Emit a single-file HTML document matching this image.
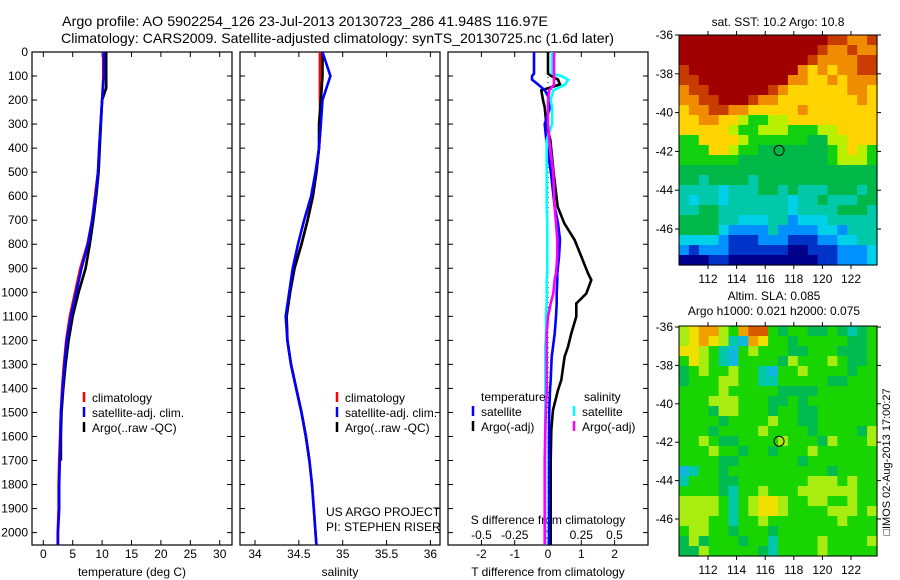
<!DOCTYPE html>
<html><head><meta charset="utf-8"><style>
body{margin:0;background:#fff}
svg{display:block;font-family:"Liberation Sans",sans-serif}
text{fill:#000;font-size:12px}
</style></head><body>
<svg id="fig" width="900" height="580" viewBox="0 0 900 580">
<text x="62" y="26" textLength="486" lengthAdjust="spacingAndGlyphs" style="font-size:14px">Argo profile: AO 5902254_126 23-Jul-2013 20130723_286 41.948S 116.97E</text>
<text x="61" y="43" textLength="553" lengthAdjust="spacingAndGlyphs" style="font-size:14px">Climatology: CARS2009. Satellite-adjusted climatology: synTS_20130725.nc (1.6d later)</text>
<g id="panels"></g>
<g id="maps"></g>
<text transform="translate(890,462) rotate(-90)" text-anchor="middle" style="font-size:11px">□IMOS 02-Aug-2013 17:00:27</text>
</svg>
<script>
// ---- data ----
const depthClim = [0,100,200,300,400,500,600,700,800,900,1000,1100,1200,1300,1400,1500,1600,1700,1800,1900,2000,2050];
const tempClim = [10.2,10.2,10.0,9.75,9.5,9.3,8.8,8.3,7.5,6.3,5.4,4.5,3.9,3.5,3.2,3.0,2.85,2.7,2.6,2.6,2.45,2.45];
const tempSat  = [10.3,10.3,10.0,9.75,9.5,9.3,8.9,8.3,7.6,6.5,5.6,4.7,4.0,3.6,3.3,3.0,2.9,2.8,2.7,2.7,2.5,2.5];
const depthArgo = [0,100,150,200,300,400,500,600,700,800,900,1000,1100,1200,1300,1400,1500,1600,1700];
const tempArgo = [10.7,10.7,10.7,10.0,9.8,9.6,9.4,9.0,8.5,7.9,7.2,6.0,5.0,4.3,3.8,3.4,3.1,3.0,3.0];
const salClim = [34.74,34.74,34.74,34.75,34.73,34.70,34.66,34.60,34.53,34.45,34.40,34.36,34.37,34.41,34.47,34.53,34.58,34.62,34.65,34.67,34.69,34.70];
const salSat  = [34.77,34.86,34.77,34.75,34.73,34.69,34.64,34.56,34.49,34.43,34.39,34.35,34.37,34.41,34.47,34.53,34.58,34.62,34.65,34.67,34.69,34.70];
const salArgo = [34.77,34.77,34.76,34.75,34.73,34.73,34.70,34.66,34.60,34.53,34.45,34.40,34.36,34.37,34.41,34.47,34.53,34.58,34.62];
const depthDiff = [0,90,100,115,135,160,200,230,300,366,505,644,713,782,851,921,949,1005,1046,1101,1171,1227,1268,1365,1407,1490,1573,1700,2050];
const dTSat  = [-0.42,-0.42,-0.48,-0.48,-0.3,-0.09,0.06,0.06,-0.1,-0.05,0.09,0.2,0.3,0.36,0.33,0.28,0.28,0.26,0.26,0.24,0.2,0.15,0.11,0.08,0.06,0.04,0.03,0.03,0.03];
const dTArgo = [0,0,0.1,0.3,0.36,-0.2,-0.15,-0.1,-0.05,0.07,0.17,0.29,0.49,0.8,1.0,1.2,1.3,1.15,0.85,0.85,0.7,0.6,0.5,0.4,0.3,0.15,0.1,0.08,0.08];
const dSSat  = [0.03,0.03,0.1,0.15,0.13,0.04,0.02,0.03,0.03,-0.01,-0.01,-0.01,-0.005,-0.005,-0.005,-0.005,-0.01,-0.01,-0.01,-0.015,-0.015,-0.02,-0.02,-0.02,-0.02,-0.02,-0.02,-0.02,-0.02];
const dSArgo = [0.045,0.045,0.045,0.045,0.045,0.01,0.0,0.0,0.0,0.01,0.04,0.05,0.06,0.07,0.07,0.06,0.05,0.04,0.02,0.0,-0.01,-0.01,-0.01,-0.01,-0.01,-0.015,-0.02,-0.025,-0.025];
const depthTicks = [0,100,200,300,400,500,600,700,800,900,1000,1100,1200,1300,1400,1500,1600,1700,1800,1900,2000];
const tempTicks = [0,5,10,15,20,25,30];
const salTicks = [34,34.5,35,35.5,36];
const dTTicks = [-2,-1,0,1,2];
const dSTicks = [-0.5,-0.25,0,0.25,0.5];
const dSTickLabels = ['-0.5','-0.25','0','0.25','0.5'];
const latTicks = [-36,-38,-40,-42,-44,-46];
const lonTicks = [112,114,116,118,120,122];
const sstGrid = [
"RRRRRRRRRRRRRRRrroor","RRRRRRRRRRRRRRrooroo","RRRRRRRRRRRRRroooorr","rRRRRRRRRRRRoyoyoorr",
"rrRRRRRRRRRooyyoyooo","orrRRRRRRroyyyyyyooy","oorrRRRrooyyyyyyyyoy","yoorrooyyyyyoyyyyyyy",
"yyooyylggllyyyyyyyyy","yyyyylgglllgggllyyyy","ggyyyylggggggGGllyyy","gggyylggGGGGGGGglylg",
"ggggggGGGGGGGGGglllg","GGGGGGGGGGGGGGGGGGGG","GGtGGGGtGGGGGGGGGGGG","ttttctttGGtGtttGGGtG",
"tcttcttttttcttGtttGG","ttGGtttttttcttttGGGt","GGGGttcccttbcccttttt","GGGGcbbbbtbbbbccbttt",
"ccccbBBBbbbBBBbbcctt","bBbbbBBBBBBnnBBBbbbc","nnnBBnnnnnnnnnBBbbbc"];
const slaGrid = [
"lyoolgorrgGggGGgGtGg","lyoyltcoyggGgggggGGg","yylgtcglgggGGgggGGGg","gylgtcggggGlggglgGGg",
"GglgglggtcgglggggGgg","GgggllggttgggggGGggg","gggglgggggGGGGgggggg","ggglllgggGGgGggggggg",
"gggGllgggGggGGgggggg","ggggGgggglggGGgggggg","gggGgggglggggGggggGl","gglgGGgggglgggGlgggl",
"ggglggGggGggglgggggg","ggggGGggggggGggggggg","ctggGggggggggggGgggg","tgggGGggggggglllglgg",
"ggggGtgglgggllllllgg","llllgtglyylggllgglgg","llllgtglyylgggglllgl","lllggtgglggggggglggg",
"gllggGgggGgggggggggg","GlGgggGggtgggglggggl","GGlgggggGtgggglggggg"];
const cmap = {R:'#a00000',r:'#c83c00',o:'#f08c00',y:'#ffd400',l:'#b8f000',g:'#10d010',G:'#00b848',t:'#00c8a8',c:'#00d0e8',b:'#0090ff',B:'#0034c8',n:'#00008c'};
const slamap = {R:'#a00000',r:'#d85a00',o:'#f0a000',y:'#f0e000',l:'#a8ec10',g:'#18d400',G:'#00bc50',t:'#00c8a8',c:'#10b8e0',b:'#0090ff',B:'#0034c8',n:'#00008c'};

// ---- helpers ----
const NS='http://www.w3.org/2000/svg';
function mk(tag,attrs,parent){const e=document.createElementNS(NS,tag);for(const k in attrs)e.setAttribute(k,attrs[k]);parent.appendChild(e);return e;}
function txt(x,y,s,anchor,parent,name){const t=mk('text',{x:x,y:y,'text-anchor':anchor||'middle'},parent);t.textContent=s;


return t;}
const yD = d => 52 + d*0.2403;
const xT = t => 43.3 + t*5.88;
const xS = s => 255 + (s-34)*87.7;
const xdT = v => 548 + v*33.3;
const xdS = v => 548 + v*133;
const panelsG=document.getElementById('panels');
const mapsG=document.getElementById('maps');

function frame(x0,x1,name){
  const g=mk('g',{},panelsG);
  
  
  mk('rect',{x:x0,y:52,width:x1-x0,height:493,fill:'#fff',stroke:'#000','stroke-width':1.2},g);
  depthTicks.forEach(d=>{const y=yD(d);
    mk('line',{x1:x0,x2:x0+5,y1:y,y2:y,stroke:'#000'},g);
    mk('line',{x1:x1-5,x2:x1,y1:y,y2:y,stroke:'#000'},g);});
  return g;
}
function series(g,depths,vals,xf,color,name,w){
  const pts=depths.map((d,i)=>xf(vals[i]).toFixed(1)+','+yD(d).toFixed(1)).join(' ');
  const p=mk('polyline',{points:pts,fill:'none',stroke:color,'stroke-width':w||2.6},g);
  
  
}
function xticks(g,x0,x1,vals,xf,labels,ly){
  vals.forEach((v,i)=>{const x=xf(v);
    mk('line',{x1:x,x2:x,y1:52,y2:57,stroke:'#000'},g);
    mk('line',{x1:x,x2:x,y1:540,y2:545,stroke:'#000'},g);
    txt(x,ly,labels?labels[i]:String(v),'middle',g,'x-tick-label');});
}
function legend(g,x,items,y0){
  items.forEach((it,i)=>{const y=y0+i*15;
    const m=mk('line',{x1:x,x2:x,y1:y-10,y2:y,stroke:it[1],'stroke-width':2.5},g);
    
    
    txt(x+8,y,it[0],'start',g,'legend-entry');});
}

const dl=mk('g',{},panelsG);


depthTicks.forEach(d=>txt(28,yD(d)+4,String(d),'end',dl,'y-tick-label'));

let g1=frame(32,232,'temperature-panel');
xticks(g1,32,232,tempTicks,xT,null,558);
txt(132,576,'temperature (deg C)','middle',g1,'x-axis-title');
series(g1,depthClim,tempClim,xT,'#ff0000','temp-climatology');
series(g1,depthArgo,tempArgo,xT,'#000000','temp-argo');
series(g1,depthClim,tempSat,xT,'#0000ff','temp-satellite');
legend(g1,84,[['climatology','#ff0000'],['satellite-adj. clim.','#0000ff'],['Argo(..raw -QC)','#000000']],402);

let g2=frame(240,440,'salinity-panel');
xticks(g2,240,440,salTicks,xS,['34','34.5','35','35.5','36'],558);
txt(340,576,'salinity','middle',g2,'x-axis-title');
series(g2,depthClim,salClim,xS,'#ff0000','sal-climatology');
series(g2,depthArgo,salArgo,xS,'#000000','sal-argo');
series(g2,depthClim,salSat,xS,'#0000ff','sal-satellite');
legend(g2,337,[['climatology','#ff0000'],['satellite-adj. clim.','#0000ff'],['Argo(..raw -QC)','#000000']],402);
txt(326,516,'US ARGO PROJECT','start',g2,'project-label');
txt(326,531,'PI: STEPHEN RISER','start',g2,'pi-label');

let g3=frame(448,648,'difference-panel');
xticks(g3,448,648,dTTicks,xdT,null,558);
dSTicks.forEach((v,i)=>txt(xdS(v),539,dSTickLabels[i],'middle',g3,'s-tick-label'));
txt(548,524,'S difference from climatology','middle',g3,'s-axis-title');
txt(548,576,'T difference from climatology','middle',g3,'x-axis-title');
mk('line',{x1:548,x2:548,y1:52,y2:545,stroke:'#000','stroke-dasharray':'1,4'},g3);
series(g3,depthDiff,dTArgo,xdT,'#000000','dT-argo');
series(g3,depthDiff,dTSat,xdT,'#0000ff','dT-satellite');
series(g3,depthDiff,dSSat,xdS,'#00ffff','dS-satellite');
series(g3,depthDiff,dSArgo,xdS,'#ff00ff','dS-argo');
txt(481,401,'temperature','start',g3,'legend-header-temperature');
txt(584,401,'salinity','start',g3,'legend-header-salinity');
legend(g3,473,[['satellite','#0000ff'],['Argo(-adj)','#000000']],416);
legend(g3,574,[['satellite','#00ffff'],['Argo(-adj)','#ff00ff']],416);

function map(y0,y1,grid,cm,name,titleLines,latScale,latOrigin){
  const x0=679,x1=877;
  const g=mk('g',{},mapsG);
  
  
  const rows=grid.length, cw=(x1-x0)/20, ch=(y1-y0)/rows;
  grid.forEach((row,r)=>{for(let c=0;c<20;c++){const k=row[c]||'g';
    mk('rect',{x:(x0+c*cw).toFixed(2),y:(y0+r*ch).toFixed(2),width:(cw+0.6).toFixed(2),height:(ch+0.6).toFixed(2),fill:cm[k]},g);}});
  mk('rect',{x:x0,y:y0,width:x1-x0,height:y1-y0,fill:'none',stroke:'#000','stroke-width':1},g);
  const lx=l=>708+(l-112)*14.3, ly=la=>latOrigin+(-36-la)*latScale;
  lonTicks.forEach(l=>{const x=lx(l);
    mk('line',{x1:x,x2:x,y1:y0,y2:y0-4,stroke:'#000'},g);
    mk('line',{x1:x,x2:x,y1:y1,y2:y1+4,stroke:'#000'},g);
    txt(x,y1+18,String(l),'middle',g,'lon-tick-label');});
  latTicks.forEach(la=>{const y=ly(la);
    mk('line',{x1:x0-4,x2:x0,y1:y,y2:y,stroke:'#000'},g);
    mk('line',{x1:x1,x2:x1+4,y1:y,y2:y,stroke:'#000'},g);
    txt(x0-6,y+4,String(la),'end',g,'lat-tick-label');});
  const c=mk('circle',{cx:lx(116.97),cy:ly(-41.948),r:5,fill:'none',stroke:'#000','stroke-width':1},g);
  
  
  titleLines.forEach(t=>txt(t[0],t[1],t[2],'middle',g,'map-title'));
}
map(35,265,sstGrid,cmap,'sst-map',[[778,26,'sat. SST: 10.2 Argo: 10.8'],[774,300,'Altim. SLA: 0.085'],[774,315,'Argo h1000: 0.021 h2000: 0.075']],19.4,35);
map(326,556,slaGrid,slamap,'sla-map',[],19.2,327);
</script>
</body></html>
